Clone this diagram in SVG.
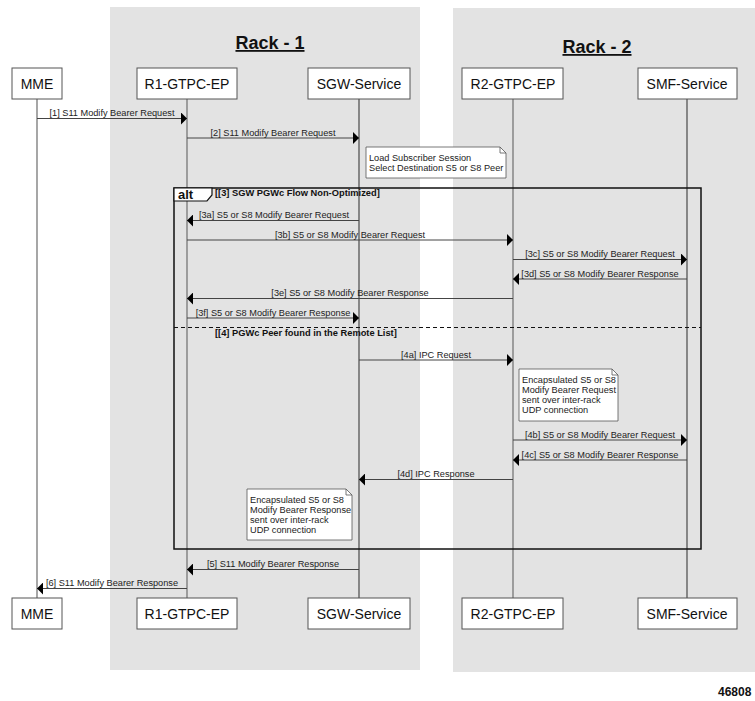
<svg xmlns="http://www.w3.org/2000/svg" width="755" height="701" viewBox="0 0 755 701">
<defs>
<style>
.rack{fill:#e3e3e3;}
.rt{font-family:"Liberation Sans",Arial,sans-serif;font-weight:bold;font-size:18px;fill:#111;text-decoration:underline;}
.box{fill:#fff;stroke:#555;stroke-width:1;}
.bt{font-family:"Liberation Sans",Arial,sans-serif;font-size:14px;fill:#111;text-anchor:middle;}
.life{stroke:#777;stroke-width:1.3;fill:none;}
.msg{stroke:#444;stroke-width:1;fill:none;}
.ml{font-family:"Liberation Sans",Arial,sans-serif;font-size:9.2px;fill:#222;text-anchor:middle;}
.note{fill:#fff;stroke:#555;stroke-width:0.8;}
.nt{font-family:"Liberation Sans",Arial,sans-serif;font-size:9.2px;fill:#222;}
.frame{fill:none;stroke:#111;stroke-width:1.5;}
.fl{font-family:"Liberation Sans",Arial,sans-serif;font-size:9.3px;font-weight:bold;fill:#111;}
</style>
<marker id="ah" markerWidth="7" markerHeight="12" refX="6" refY="6" orient="auto" markerUnits="userSpaceOnUse">
<path d="M0,0 L6,6 L0,12 Z" fill="#000"/>
</marker>
</defs>
<rect width="755" height="701" fill="#fff"/>
<g id="rack1">
<rect class="rack" x="110" y="7" width="310" height="663"/>
<text class="rt" x="270" y="49" text-anchor="middle">Rack - 1</text>
</g>
<g id="rack2">
<rect class="rack" x="453" y="8" width="302" height="664"/>
<text class="rt" x="597" y="53" text-anchor="middle">Rack - 2</text>
</g>
<g id="lifelines">
<line class="life" x1="37" y1="99" x2="37" y2="598"/>
<line class="life" x1="187" y1="99" x2="187" y2="598"/>
<line class="life" x1="359" y1="99" x2="359" y2="598" style="stroke:#555"/>
<line class="life" x1="513" y1="99" x2="513" y2="598"/>
<line class="life" x1="687" y1="99" x2="687" y2="598" style="stroke:#555"/>
</g>
<g id="MME">
<rect class="box" x="12" y="68" width="50" height="31"/><text class="bt" x="37" y="89">MME</text>
<rect class="box" x="12" y="598" width="50" height="31"/><text class="bt" x="37" y="619">MME</text>
</g>
<g id="R1-GTPC-EP">
<rect class="box" x="137" y="68" width="100" height="31"/><text class="bt" x="187" y="89">R1-GTPC-EP</text>
<rect class="box" x="137" y="598" width="100" height="31"/><text class="bt" x="187" y="619">R1-GTPC-EP</text>
</g>
<g id="SGW-Service">
<rect class="box" x="308" y="68" width="102" height="31"/><text class="bt" x="359" y="89">SGW-Service</text>
<rect class="box" x="308" y="598" width="102" height="31"/><text class="bt" x="359" y="619">SGW-Service</text>
</g>
<g id="R2-GTPC-EP">
<rect class="box" x="462" y="68" width="101" height="31"/><text class="bt" x="513" y="89">R2-GTPC-EP</text>
<rect class="box" x="462" y="598" width="101" height="31"/><text class="bt" x="513" y="619">R2-GTPC-EP</text>
</g>
<g id="SMF-Service">
<rect class="box" x="638" y="68" width="99" height="31"/><text class="bt" x="687" y="89">SMF-Service</text>
<rect class="box" x="638" y="598" width="99" height="31"/><text class="bt" x="687" y="619">SMF-Service</text>
</g>
<g id="alt-frame">
<rect class="frame" x="174" y="188" width="527" height="361"/>
<path d="M174,188 L212,188 L212,195 L207,201 L174,201 Z" fill="#fff" stroke="#111" stroke-width="1.2"/>
<text x="178" y="199" style="font-family:'Liberation Sans',Arial,sans-serif;font-size:13px;font-weight:bold;fill:#111">alt</text>
<text class="fl" x="215" y="196">[[3] SGW PGWc Flow Non-Optimized]</text>
<line x1="174" y1="327.5" x2="701" y2="327.5" stroke="#111" stroke-width="1.2" stroke-dasharray="4,3"/>
<text class="fl" x="215" y="336">[[4] PGWc Peer found in the Remote List]</text>
</g>
<g id="note1">
<path class="note" d="M366,147 L500,147 L506,153 L506,178 L366,178 Z"/>
<path d="M500,147 L500,153 L506,153" fill="none" stroke="#555" stroke-width="0.8"/>
<text class="nt" x="369" y="161">Load Subscriber Session</text>
<text class="nt" x="369" y="171">Select Destination S5 or S8 Peer</text>
</g>
<g id="note2">
<path class="note" d="M519,369 L612,369 L618,375 L618,421 L519,421 Z"/>
<path d="M612,369 L612,375 L618,375" fill="none" stroke="#555" stroke-width="0.8"/>
<text class="nt" x="522" y="383">Encapsulated S5 or S8</text>
<text class="nt" x="522" y="393">Modify Bearer Request</text>
<text class="nt" x="522" y="403">sent over inter-rack</text>
<text class="nt" x="522" y="413">UDP connection</text>
</g>
<g id="note3">
<path class="note" d="M247,489 L346,489 L352,495 L352,540 L247,540 Z"/>
<path d="M346,489 L346,495 L352,495" fill="none" stroke="#555" stroke-width="0.8"/>
<text class="nt" x="250" y="503">Encapsulated S5 or S8</text>
<text class="nt" x="250" y="513">Modify Bearer Response</text>
<text class="nt" x="250" y="523">sent over inter-rack</text>
<text class="nt" x="250" y="533">UDP connection</text>
</g>
<g id="connectors">
<line class="msg" x1="37" y1="118.5" x2="187" y2="118.5" marker-end="url(#ah)"/>
<text class="ml" x="112" y="116">[1] S11 Modify Bearer Request</text>
<line class="msg" x1="187" y1="138" x2="359" y2="138" marker-end="url(#ah)"/>
<text class="ml" x="273" y="135.5">[2] S11 Modify Bearer Request</text>
<line class="msg" x1="359" y1="220.5" x2="187" y2="220.5" marker-end="url(#ah)"/>
<text class="ml" x="274" y="218">[3a] S5 or S8 Modify Bearer Request</text>
<line class="msg" x1="187" y1="240" x2="513" y2="240" marker-end="url(#ah)"/>
<text class="ml" x="350" y="237.5">[3b] S5 or S8 Modify Bearer Request</text>
<line class="msg" x1="513" y1="259.5" x2="687" y2="259.5" marker-end="url(#ah)"/>
<text class="ml" x="600" y="257">[3c] S5 or S8 Modify Bearer Request</text>
<line class="msg" x1="687" y1="279" x2="513" y2="279" marker-end="url(#ah)"/>
<text class="ml" x="600" y="276.5">[3d] S5 or S8 Modify Bearer Response</text>
<line class="msg" x1="513" y1="298.5" x2="187" y2="298.5" marker-end="url(#ah)"/>
<text class="ml" x="350" y="296">[3e] S5 or S8 Modify Bearer Response</text>
<line class="msg" x1="187" y1="318" x2="359" y2="318" marker-end="url(#ah)"/>
<text class="ml" x="273" y="315.5">[3f] S5 or S8 Modify Bearer Response</text>
<line class="msg" x1="359" y1="360" x2="513" y2="360" marker-end="url(#ah)"/>
<text class="ml" x="436" y="357.5">[4a] IPC Request</text>
<line class="msg" x1="513" y1="440" x2="687" y2="440" marker-end="url(#ah)"/>
<text class="ml" x="600" y="437.5">[4b] S5 or S8 Modify Bearer Request</text>
<line class="msg" x1="687" y1="460" x2="513" y2="460" marker-end="url(#ah)"/>
<text class="ml" x="600" y="457.5">[4c] S5 or S8 Modify Bearer Response</text>
<line class="msg" x1="513" y1="479.5" x2="359" y2="479.5" marker-end="url(#ah)"/>
<text class="ml" x="436" y="477">[4d] IPC Response</text>
<line class="msg" x1="359" y1="569.5" x2="187" y2="569.5" marker-end="url(#ah)"/>
<text class="ml" x="273" y="567">[5] S11 Modify Bearer Response</text>
<line class="msg" x1="187" y1="588.5" x2="37" y2="588.5" marker-end="url(#ah)"/>
<text class="ml" x="112" y="586">[6] S11 Modify Bearer Response</text>
</g>
<text x="718" y="696" style="font-family:'Liberation Sans',Arial,sans-serif;font-size:12px;font-weight:bold;fill:#111">46808</text>
</svg>
